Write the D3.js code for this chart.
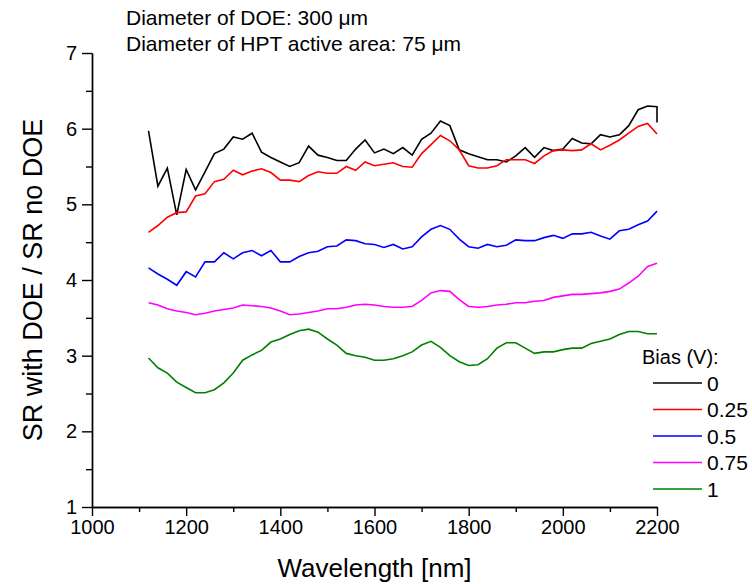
<!DOCTYPE html>
<html><head><meta charset="utf-8">
<script src="https://cdn.jsdelivr.net/npm/d3@7"></script>
<style>
body{margin:0;background:#fff}
svg{display:block}
text{font-family:"Liberation Sans",Arial,sans-serif;fill:#000}
</style>
</head><body>
<svg id="chart" width="752" height="584"></svg>
<script>
// ---- data ----
const wavelengths = [1120,1140,1160,1180,1200,1220,1240,1260,1280,1300,1320,1340,1360,1380,1400,1420,1440,1460,1480,1500,
  1520,1540,1560,1580,1600,1620,1640,1660,1680,1700,1720,1740,1760,1780,1800,1820,1840,1860,1880,1900,
  1920,1940,1960,1980,2000,2020,2040,2060,2080,2100,2120,2140,2160,2180,2200];
// bias 0 has one extra closing point at 2200 (vertical drop at the right edge)
const wavelengthsBias0 = [1120,1140,1160,1180,1200,1220,1240,1260,1280,1300,1320,1340,1360,1380,1400,1420,1440,1460,1480,1500,
  1520,1540,1560,1580,1600,1620,1640,1660,1680,1700,1720,1740,1760,1780,1800,1820,1840,1860,1880,1900,
  1920,1940,1960,1980,2000,2020,2040,2060,2080,2100,2120,2140,2160,2180,2200,2200];
const bias0 = [5.97,5.24,5.48,4.86,5.46,5.19,5.43,5.67,5.73,5.89,5.86,5.94,5.69,5.62,5.56,5.50,5.55,5.77,5.65,5.62,
  5.58,5.58,5.73,5.85,5.68,5.73,5.67,5.75,5.65,5.86,5.94,6.10,6.04,5.72,5.67,5.63,5.59,5.59,5.56,5.64,
  5.75,5.62,5.75,5.71,5.73,5.87,5.81,5.80,5.92,5.89,5.92,6.04,6.25,6.30,6.29,6.08];
const bias025 = [4.63,4.72,4.83,4.89,4.90,5.11,5.14,5.30,5.33,5.45,5.39,5.44,5.47,5.42,5.32,5.32,5.30,5.38,5.43,5.41,
  5.41,5.50,5.45,5.56,5.51,5.53,5.55,5.50,5.49,5.67,5.79,5.91,5.84,5.72,5.51,5.48,5.48,5.51,5.59,5.59,
  5.59,5.54,5.64,5.71,5.72,5.71,5.72,5.80,5.72,5.78,5.85,5.94,6.03,6.07,5.93];
const bias05 = [4.16,4.08,4.01,3.93,4.11,4.04,4.24,4.24,4.36,4.28,4.36,4.39,4.32,4.39,4.24,4.24,4.31,4.36,4.38,4.44,
  4.45,4.53,4.52,4.48,4.47,4.43,4.47,4.41,4.44,4.57,4.67,4.72,4.67,4.54,4.44,4.42,4.47,4.44,4.46,4.53,
  4.52,4.52,4.56,4.59,4.55,4.61,4.61,4.63,4.58,4.54,4.65,4.67,4.73,4.78,4.91];
const bias075 = [3.70,3.67,3.62,3.59,3.57,3.54,3.56,3.59,3.61,3.63,3.67,3.66,3.65,3.63,3.59,3.54,3.55,3.57,3.59,3.62,
  3.62,3.64,3.67,3.68,3.67,3.65,3.64,3.64,3.65,3.73,3.83,3.86,3.85,3.74,3.65,3.64,3.65,3.67,3.68,3.70,
  3.70,3.72,3.73,3.77,3.79,3.81,3.81,3.82,3.83,3.85,3.88,3.96,4.05,4.18,4.22];
const bias1 = [2.97,2.84,2.77,2.65,2.58,2.51,2.51,2.55,2.64,2.77,2.94,3.01,3.07,3.18,3.22,3.28,3.33,3.35,3.31,3.22,
  3.14,3.03,3.00,2.98,2.94,2.94,2.96,3.00,3.05,3.14,3.19,3.11,3.00,2.92,2.87,2.88,2.96,3.10,3.17,3.17,
  3.10,3.03,3.05,3.05,3.08,3.10,3.10,3.16,3.19,3.22,3.28,3.32,3.32,3.29,3.29];
const biasLabels = ["0","0.25","0.5","0.75","1"];
const seriesColors = ["#000000","#ff0000","#0000ff","#ff00ff","#008000"];
const xMajorTicks = [1000,1200,1400,1600,1800,2000,2200];
const xMinorTicks = [1100,1300,1500,1700,1900,2100];
const yMajorTicks = [1,2,3,4,5,6,7];
const yMinorTicks = [1.5,2.5,3.5,4.5,5.5,6.5];
const headerLines = ["Diameter of DOE: 300 \u03bcm","Diameter of HPT active area: 75 \u03bcm"];
const xTitle = "Wavelength [nm]";
const yTitle = "SR with DOE / SR no DOE";
const legendTitle = "Bias (V):";

// ---- drawing ----
const svg = d3.select("#chart");
const L = 92, R = 657, T = 53, B = 507;
const x = d3.scaleLinear().domain([1000,2200]).range([L,R]);
const y = d3.scaleLinear().domain([1,7]).range([B,T]);

const series = [
  {wl: wavelengthsBias0, v: bias0},
  {wl: wavelengths, v: bias025},
  {wl: wavelengths, v: bias05},
  {wl: wavelengths, v: bias075},
  {wl: wavelengths, v: bias1}
];

// axes
function styleAxis(g){
  g.selectAll("path").attr("stroke","#000").attr("stroke-width",1.4);
  g.selectAll("line").attr("stroke","#000").attr("stroke-width",1.4);
  g.selectAll("text").attr("font-size","20px").attr("fill","#000")
    .attr("font-family",'"Liberation Sans",Arial,sans-serif');
}
const gxMinor = svg.append("g").attr("transform",`translate(0,${B})`)
  .call(d3.axisBottom(x).tickValues(xMinorTicks).tickSize(5).tickSizeOuter(0).tickFormat(""));
styleAxis(gxMinor);
const gx = svg.append("g").attr("transform",`translate(0,${B})`)
  .call(d3.axisBottom(x).tickValues(xMajorTicks).tickSize(9).tickSizeOuter(0).tickPadding(4).tickFormat(d3.format("d")));
styleAxis(gx);
const gyMinor = svg.append("g").attr("transform",`translate(${L},0)`)
  .call(d3.axisLeft(y).tickValues(yMinorTicks).tickSize(6).tickSizeOuter(0).tickFormat(""));
styleAxis(gyMinor);
const gy = svg.append("g").attr("transform",`translate(${L},0)`)
  .call(d3.axisLeft(y).tickValues(yMajorTicks).tickSize(10).tickSizeOuter(0).tickPadding(5).tickFormat(d3.format("d")));
styleAxis(gy);

// lines
const line = d3.line().x(d => x(d[0])).y(d => y(d[1]));
series.forEach((s,i) => {
  svg.append("path")
    .datum(s.wl.map((w,k) => [w, s.v[k]]))
    .attr("fill","none")
    .attr("stroke",seriesColors[i])
    .attr("stroke-width",1.6)
    .attr("stroke-linejoin","miter")
    .attr("d",line);
});

// header text
headerLines.forEach((t,i) => {
  svg.append("text").attr("x",126).attr("y",25 + i*26)
    .attr("font-size","21px").text(t);
});

// axis titles
svg.append("text").attr("x",(L+R)/2).attr("y",577).attr("text-anchor","middle")
  .attr("font-size","26px").text(xTitle);
svg.append("text").attr("transform",`translate(42,${(T+B)/2}) rotate(-90)`)
  .attr("text-anchor","middle").attr("font-size","27px").text(yTitle);

// legend
const lgX = 653, lgY0 = 383, lgDy = 26.5;
svg.append("text").attr("x",642).attr("y",364).attr("font-size","20px").text(legendTitle);
biasLabels.forEach((lab,i) => {
  const yy = lgY0 + i*lgDy;
  svg.append("line").attr("x1",lgX).attr("x2",lgX+49).attr("y1",yy).attr("y2",yy)
    .attr("stroke",seriesColors[i]).attr("stroke-width",1.6);
  svg.append("text").attr("x",lgX+54).attr("y",yy+7.5).attr("font-size","21px").text(lab);
});
</script>
</body></html>
